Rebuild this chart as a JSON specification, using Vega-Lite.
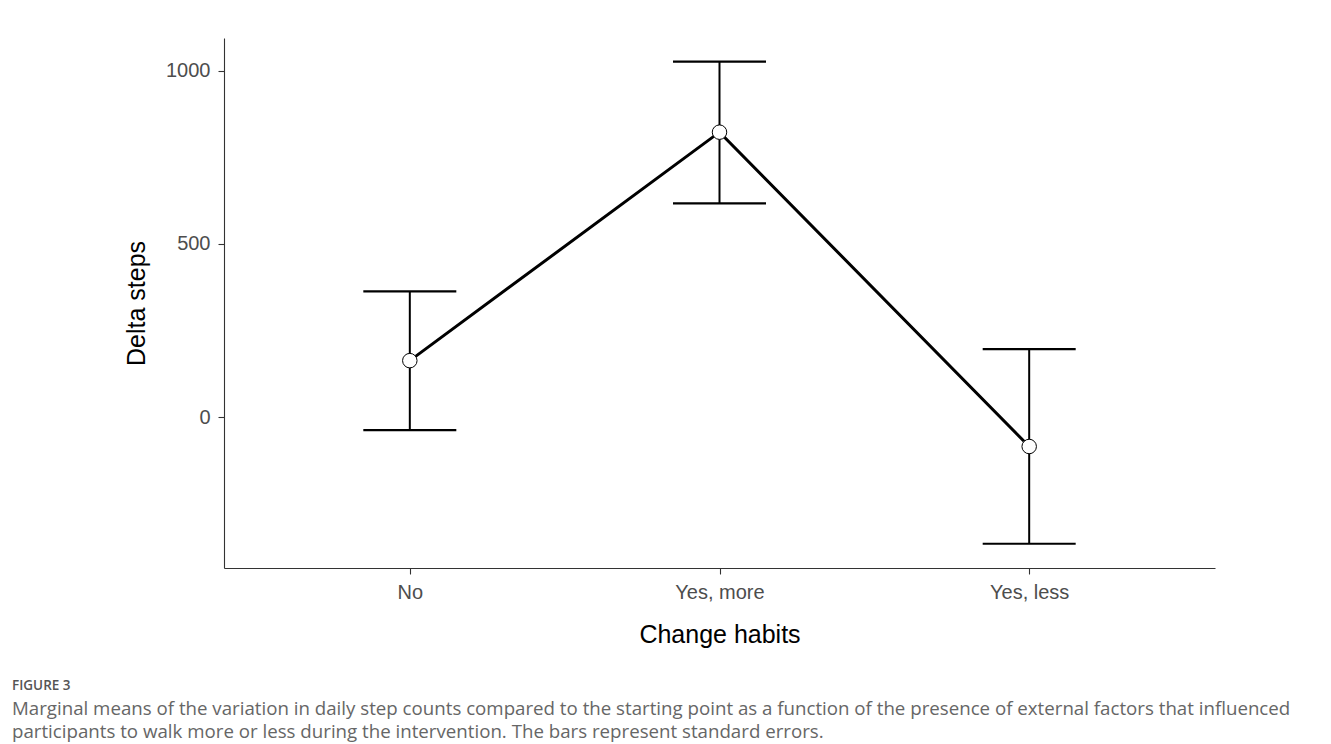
{
  "$schema": "https://vega.github.io/schema/vega-lite/v6.json",
  "width": 991,
  "height": 530,
  "autosize": {"type": "none"},
  "padding": {"left": 224, "top": 38, "right": 116, "bottom": 176},
  "background": "white",
  "config": {
    "view": {"stroke": null},
    "axis": {"grid": false, "labelFont": "Liberation Sans", "titleFont": "Liberation Sans", "labelFontSize": 20, "titleFontSize": 25, "labelColor": "#4d4d4d", "titleColor": "#000000", "titleFontWeight": "normal", "domainColor": "#333333", "tickColor": "#333333", "domainWidth": 1.1, "tickWidth": 1.1, "tickSize": 6}
  },
  "title": {
    "text": "FIGURE 3",
    "subtitle": ["Marginal means of the variation in daily step counts compared to the starting point as a function of the presence of external factors that influenced", "participants to walk more or less during the intervention. The bars represent standard errors."],
    "orient": "bottom",
    "anchor": "start",
    "frame": "group",
    "dx": -212,
    "offset": 32,
    "font": "Open Sans",
    "fontSize": 13.5,
    "fontWeight": 600,
    "color": "#555555",
    "subtitleFont": "Open Sans",
    "subtitleFontSize": 18.7,
    "subtitleColor": "#666666",
    "subtitleLineHeight": 23,
    "subtitlePadding": 7
  },
  "data": {"values": [
    {"habit": "No", "mean": 163, "lower": -38, "upper": 363},
    {"habit": "Yes, more", "mean": 823, "lower": 617, "upper": 1027},
    {"habit": "Yes, less", "mean": -85, "lower": -366, "upper": 196}
  ]},
  "encoding": {
    "x": {"field": "habit", "type": "nominal", "sort": ["No", "Yes, more", "Yes, less"], "scale": {"type": "point", "padding": 0.6}, "title": "Change habits", "axis": {"labelAngle": 0, "labelPadding": 8, "titlePadding": 20}}
  },
  "layer": [
    {
      "mark": {"type": "rule", "color": "black", "strokeWidth": 2},
      "encoding": {
        "y": {"field": "lower", "type": "quantitative", "scale": {"domain": [-436, 1095], "nice": false, "zero": false}, "title": "Delta steps", "axis": {"values": [0, 500, 1000], "format": "d", "labelPadding": 8, "titlePadding": 16}},
        "y2": {"field": "upper"}
      }
    },
    {
      "mark": {"type": "line", "color": "black", "strokeWidth": 3},
      "encoding": {"y": {"field": "mean", "type": "quantitative"}}
    },
    {
      "mark": {"type": "tick", "orient": "horizontal", "color": "black", "size": 93, "thickness": 2.2, "opacity": 1},
      "encoding": {"y": {"field": "lower", "type": "quantitative"}}
    },
    {
      "mark": {"type": "tick", "orient": "horizontal", "color": "black", "size": 93, "thickness": 2.2, "opacity": 1},
      "encoding": {"y": {"field": "upper", "type": "quantitative"}}
    },
    {
      "mark": {"type": "point", "shape": "circle", "filled": true, "fill": "white", "stroke": "black", "strokeWidth": 1, "size": 210, "opacity": 1},
      "encoding": {"y": {"field": "mean", "type": "quantitative"}}
    }
  ]
}
